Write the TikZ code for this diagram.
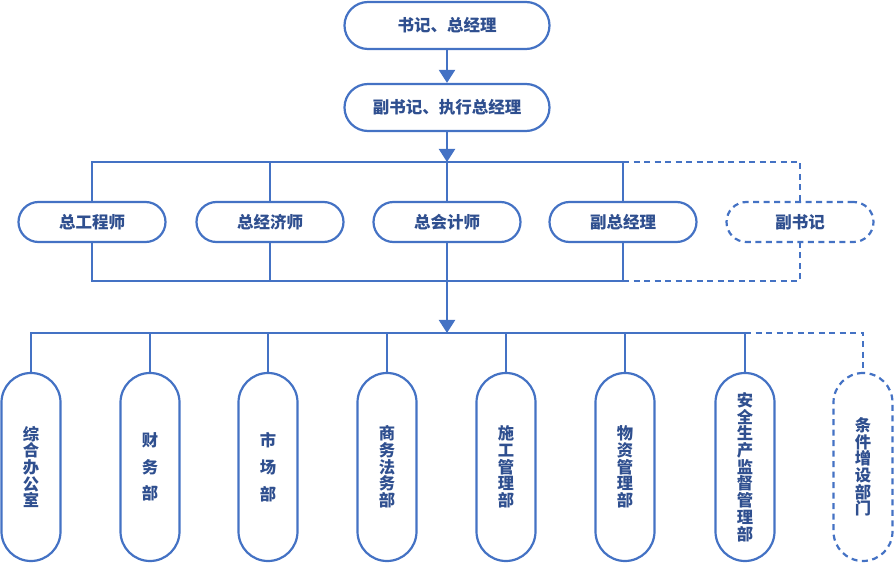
\documentclass[tikz,border=0pt]{standalone}
\usepackage{fontspec}
\newfontfamily\cjk{Noto Sans CJK SC}
\usetikzlibrary{arrows.meta}
\definecolor{lineblue}{HTML}{4472C4}
\definecolor{textblue}{HTML}{2F4F8F}
\tikzset{
  conn/.style={draw=lineblue, line width=2.2pt},
  dconn/.style={conn, dash pattern=on 6pt off 4.5pt},
  arr/.style={conn, -{Triangle[width=16pt,length=13pt]}},
  box/.style={draw=lineblue, line width=2.2pt, fill=white, text=textblue, inner sep=0pt,
     font=\cjk\bfseries\fontsize{16.5}{18}\selectfont, align=center},
  topbox/.style={box, minimum width=205pt, minimum height=47pt, rounded corners=23.5pt},
  midbox/.style={box, minimum width=147pt, minimum height=40pt, rounded corners=20pt},
  vbox/.style={box, minimum width=59pt, minimum height=188pt, rounded corners=29.5pt},
  dbox/.style={dash pattern=on 6pt off 4.5pt},
  tight/.style={font=\cjk\bfseries\fontsize{16.3}{16.7}\selectfont},
  wide/.style={font=\cjk\bfseries\fontsize{16.3}{26.8}\selectfont},
}
\begin{document}
\begin{tikzpicture}[x=1pt,y=-1pt]
\useasboundingbox (0,0) rectangle (895,564);
\node[topbox] (t1) at (447,25.5) {书记、总经理};
\node[topbox] (t2) at (447,107.5) {副书记、执行总经理};
\node[midbox] (r1) at (92,222) {总工程师};
\node[midbox] (r2) at (270,222) {总经济师};
\node[midbox] (r3) at (447,222) {总会计师};
\node[midbox] (r4) at (623,222) {副总经理};
\node[midbox,dbox] (r5) at (800,222) {副书记};
\node[vbox,tight] (b1) at (31,467) {综\\合\\办\\公\\室};
\node[vbox,wide] (b2) at (150,467) {财\\务\\部};
\node[vbox,wide] (b3) at (268,467) {市\\场\\部};
\node[vbox,tight] (b4) at (387,467) {商\\务\\法\\务\\部};
\node[vbox,tight] (b5) at (506,467) {施\\工\\管\\理\\部};
\node[vbox,tight] (b6) at (625,467) {物\\资\\管\\理\\部};
\node[vbox,tight] (b7) at (745,467) {安\\全\\生\\产\\监\\督\\管\\理\\部};
\node[vbox,tight,dbox] (b8) at (863,467) {条\\件\\增\\设\\部\\门};
\coordinate (j1) at (447,162);
\coordinate (j2) at (447,281);
\coordinate (j3) at (447,333);
\draw[arr] (t1.south) -- (t2.north);
\draw[arr] (t2.south) -- (j1);
\draw[conn] (r1.north) |- (j1) -| (r4.north);
\draw[conn] (r2.north) -- (r2.north |- j1);
\draw[conn] (r3.north) -- (j1);
\draw[dconn] (r4.north |- j1) -| (r5.north);
\draw[conn] (r1.south) |- (j2) -| (r4.south);
\draw[conn] (r2.south) -- (r2.south |- j2);
\draw[conn] (r3.south) -- (j2);
\draw[dconn] (r4.south |- j2) -| (r5.south);
\draw[arr] (j2) -- (j3);
\draw[conn] (b1.north) |- (j3) -| (b7.north);
\foreach \n in {b2,b3,b4,b5,b6} \draw[conn] (\n.north) -- (\n.north |- j3);
\draw[dconn] (b7.north |- j3) -| (b8.north);
\end{tikzpicture}
\end{document}
